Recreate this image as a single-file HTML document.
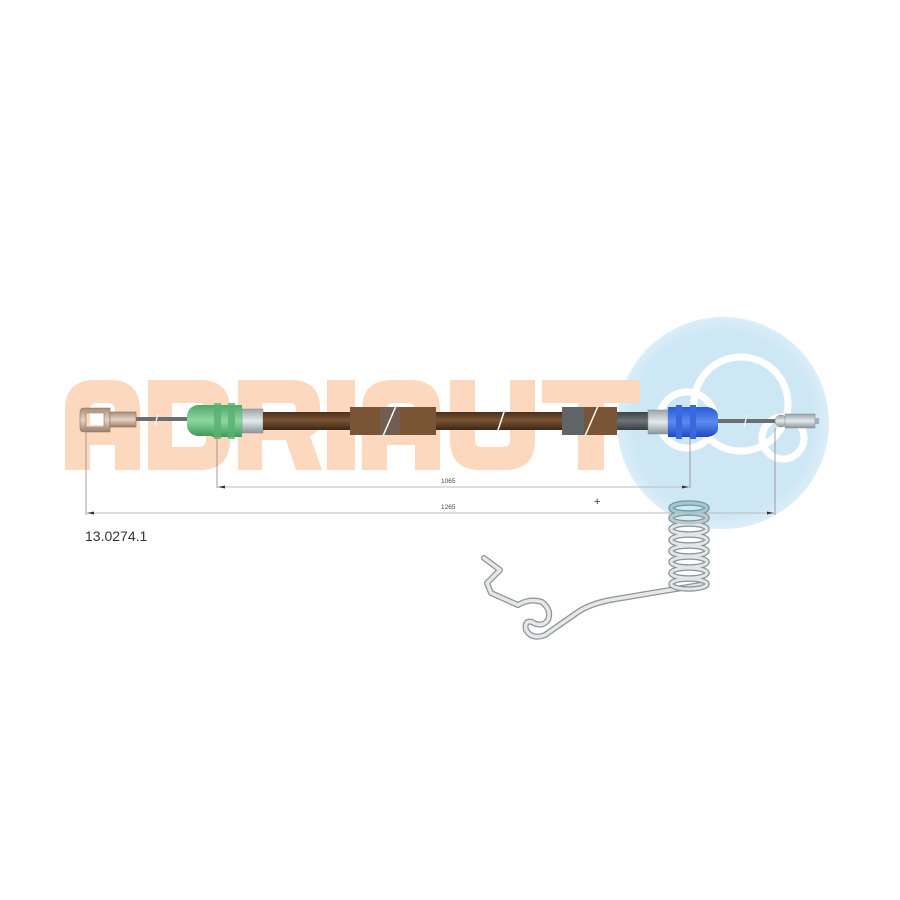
<!DOCTYPE html>
<html><head><meta charset="utf-8"><style>
html,body{margin:0;padding:0;background:#fff;}
svg{display:block}
text{font-family:"Liberation Sans",sans-serif;}
</style></head><body>
<svg width="900" height="900" viewBox="0 0 900 900" xmlns="http://www.w3.org/2000/svg">
<defs>
<linearGradient id="brown" x1="0" y1="0" x2="0" y2="1"><stop offset="0" stop-color="#4a2e1c"/><stop offset="0.45" stop-color="#7a5434"/><stop offset="1" stop-color="#3d2616"/></linearGradient>
<linearGradient id="grey" x1="0" y1="0" x2="0" y2="1"><stop offset="0" stop-color="#3c4448"/><stop offset="0.5" stop-color="#6c7478"/><stop offset="1" stop-color="#353c40"/></linearGradient>
<linearGradient id="green" x1="0" y1="0" x2="0" y2="1"><stop offset="0" stop-color="#4fa868"/><stop offset="0.5" stop-color="#8fd8a0"/><stop offset="1" stop-color="#3f9a5a"/></linearGradient>
<linearGradient id="blue" x1="0" y1="0" x2="0" y2="1"><stop offset="0" stop-color="#2a5ad8"/><stop offset="0.5" stop-color="#5b8cf0"/><stop offset="1" stop-color="#2248c0"/></linearGradient>
<linearGradient id="metal" x1="0" y1="0" x2="0" y2="1"><stop offset="0" stop-color="#9aa4a8"/><stop offset="0.5" stop-color="#e4eaec"/><stop offset="1" stop-color="#8a9498"/></linearGradient>
<linearGradient id="tan" x1="0" y1="0" x2="0" y2="1"><stop offset="0" stop-color="#a88c78"/><stop offset="0.5" stop-color="#e6d2c2"/><stop offset="1" stop-color="#9a7e6a"/></linearGradient>
<radialGradient id="disc" cx="0.5" cy="0.5" r="0.5"><stop offset="0.85" stop-color="#cde7f4"/><stop offset="1" stop-color="#dbeef8"/></radialGradient>
</defs>

<!-- blue logo disc -->
<circle cx="723" cy="423" r="106" fill="url(#disc)"/>
<g fill="none" stroke="#fff" stroke-width="7">
<circle cx="687" cy="420" r="28"/>
<circle cx="741" cy="404" r="47"/>
<circle cx="783" cy="438" r="21"/>
</g>

<!-- ADRIAUT watermark -->
<g fill="#fcd8bf">
<!-- A -->
<path d="M65,470 V410 Q65,380 95,380 H110 Q140,380 140,410 V470 H115 V445 H90 V470 Z M90,425 H115 V410 Q115,403 108,403 H97 Q90,403 90,410 Z" fill-rule="evenodd"/>
<!-- D -->
<path d="M148,380 H200 Q230,380 230,410 V440 Q230,470 200,470 H148 Z M172,403 V447 H198 Q206,447 206,440 V410 Q206,403 198,403 Z" fill-rule="evenodd"/>
<!-- R -->
<path d="M238,380 H290 Q320,380 320,408 V420 Q320,432 310,436 L322,470 H296 L286,440 H262 V470 H238 Z M262,403 V420 H290 Q296,420 296,414 V409 Q296,403 290,403 Z" fill-rule="evenodd"/>
<!-- I -->
<rect x="327" y="380" width="28" height="90"/>
<!-- A -->
<path d="M362,470 V410 Q362,380 392,380 H410 Q440,380 440,410 V470 H415 V445 H387 V470 Z M387,425 H415 V410 Q415,403 408,403 H394 Q387,403 387,410 Z" fill-rule="evenodd"/>
<!-- U -->
<path d="M450,380 H475 V440 Q475,447 482,447 H503 Q510,447 510,440 V380 H535 V440 Q535,470 505,470 H480 Q450,470 450,440 Z"/>
<!-- T -->
<path d="M542,380 H640 V403 H604 V470 H578 V403 H542 Z"/>
</g>

<!-- dimension verticals -->
<g stroke="#888" stroke-width="0.8">
<line x1="86" y1="430" x2="86" y2="515"/>
<line x1="217" y1="432" x2="217" y2="488"/>
<line x1="690" y1="437" x2="690" y2="488"/>
<line x1="775" y1="428" x2="775" y2="515"/>
</g>
<g stroke="#bbb" stroke-width="1">
<line x1="217" y1="487" x2="690" y2="487"/>
<line x1="86" y1="513" x2="775" y2="513"/>
</g>
<g fill="#333">
<path d="M218,487 l7,-1.5 v3 z"/><path d="M689,487 l-7,-1.5 v3 z"/>
<path d="M87,513 l7,-1.5 v3 z"/><path d="M774,513 l-7,-1.5 v3 z"/>
</g>
<text x="441" y="483" font-size="6.5" fill="#444">1065</text>
<text x="441" y="509" font-size="6.5" fill="#444">1265</text>
<text x="594" y="505" font-size="11" fill="#333">+</text>
<text x="85" y="541" font-size="14" fill="#333">13.0274.1</text>

<!-- left inner wire -->
<rect x="136" y="417" width="52" height="4" fill="#6a6f72"/>
<line x1="155" y1="425" x2="158" y2="414" stroke="#fff" stroke-width="1.2"/>
<!-- left eyelet -->
<path d="M80,412 Q80,408 84,408 H110 V432 H84 Q80,432 80,428 Z M86,413 V427 H104 V413 Z" fill="url(#tan)" fill-rule="evenodd" stroke="#8a7060" stroke-width="0.6"/>
<rect x="110" y="412" width="26" height="15" fill="url(#tan)" stroke="#8a7060" stroke-width="0.6"/>
<!-- green ferrule -->
<path d="M187,416 Q188,407 197,405 H216 V436 H197 Q188,434 187,426 Z" fill="url(#green)"/>
<rect x="212" y="405" width="30" height="32" fill="url(#green)"/>
<rect x="214" y="403" width="7" height="36" fill="#5ab072" opacity="0.8"/>
<rect x="228" y="403" width="7" height="36" fill="#5ab072" opacity="0.8"/>
<rect x="242" y="409" width="21" height="24" fill="url(#metal)" stroke="#889" stroke-width="0.5"/>
<!-- conduit -->
<rect x="263" y="412" width="405" height="18" fill="url(#brown)"/>
<rect x="617" y="412" width="48" height="18" fill="url(#grey)"/>
<rect x="350" y="407" width="86" height="28" fill="#7a5535"/>
<rect x="380" y="407" width="20" height="28" fill="#6a6468" opacity="0.6"/>
<rect x="562" y="407" width="55" height="28" fill="#7a5535"/>
<rect x="562" y="407" width="22" height="28" fill="#5e6468"/>
<g stroke="#fff" stroke-width="1.5">
<line x1="383" y1="436" x2="396" y2="406"/>
<line x1="497" y1="433" x2="505" y2="409"/>
<line x1="585" y1="436" x2="598" y2="406"/>
</g>
<!-- right metal + blue ferrule -->
<rect x="648" y="410" width="20" height="24" fill="url(#metal)" stroke="#889" stroke-width="0.5"/>
<path d="M668,407 H708 Q718,409 718,416 V428 Q718,435 708,437 H668 Z" fill="url(#blue)"/>
<rect x="676" y="405" width="6" height="34" fill="#3a68e0"/>
<rect x="690" y="405" width="6" height="34" fill="#3a68e0"/>
<!-- right wire -->
<rect x="718" y="419" width="60" height="4" fill="#6a6f72"/>
<line x1="744" y1="427" x2="747" y2="415" stroke="#fff" stroke-width="1.2"/>
<circle cx="781" cy="421" r="6" fill="url(#metal)" stroke="#889" stroke-width="0.5"/>
<rect x="785" y="414" width="30" height="14" fill="url(#metal)" stroke="#889" stroke-width="0.5"/>
<rect x="815" y="418" width="4" height="6" fill="#aab"/>

<!-- spring wire -->
<path d="M484,558 L500,570 L487,583 L491,593 L518,605 Q530,598 542,602 Q552,610 548,620 Q542,628 532,622 Q524,620 526,630 Q532,640 545,635 L578,612 Q590,604 610,600 L706,584" fill="none" stroke="#8e9496" stroke-width="6" stroke-linejoin="round" stroke-linecap="round"/>
<path d="M484,558 L500,570 L487,583 L491,593 L518,605 Q530,598 542,602 Q552,610 548,620 Q542,628 532,622 Q524,620 526,630 Q532,640 545,635 L578,612 Q590,604 610,600 L706,584" fill="none" stroke="#e6e8e8" stroke-width="3.5" stroke-linejoin="round" stroke-linecap="round"/>
<!-- coils -->
<g fill="none">
<g stroke="#8a9496" stroke-width="5.5">
<ellipse cx="689" cy="584" rx="18" ry="5"/><ellipse cx="689" cy="573" rx="18" ry="5"/><ellipse cx="689" cy="562" rx="18" ry="5"/><ellipse cx="689" cy="551" rx="18" ry="5"/><ellipse cx="689" cy="540" rx="18" ry="5"/><ellipse cx="689" cy="529" rx="18" ry="5"/><ellipse cx="689" cy="518" rx="18" ry="5"/><ellipse cx="689" cy="508" rx="18" ry="5" stroke="#6f9aa6"/>
</g>
<g stroke="#e2e6e6" stroke-width="3">
<ellipse cx="689" cy="584" rx="18" ry="5"/><ellipse cx="689" cy="573" rx="18" ry="5"/><ellipse cx="689" cy="562" rx="18" ry="5"/><ellipse cx="689" cy="551" rx="18" ry="5"/><ellipse cx="689" cy="540" rx="18" ry="5"/><ellipse cx="689" cy="529" rx="18" ry="5"/><ellipse cx="689" cy="518" rx="18" ry="5" stroke="#b8cdd3"/><ellipse cx="689" cy="508" rx="18" ry="5" stroke="#a6c6cf"/>
</g>
</g>
</svg>
</body></html>
